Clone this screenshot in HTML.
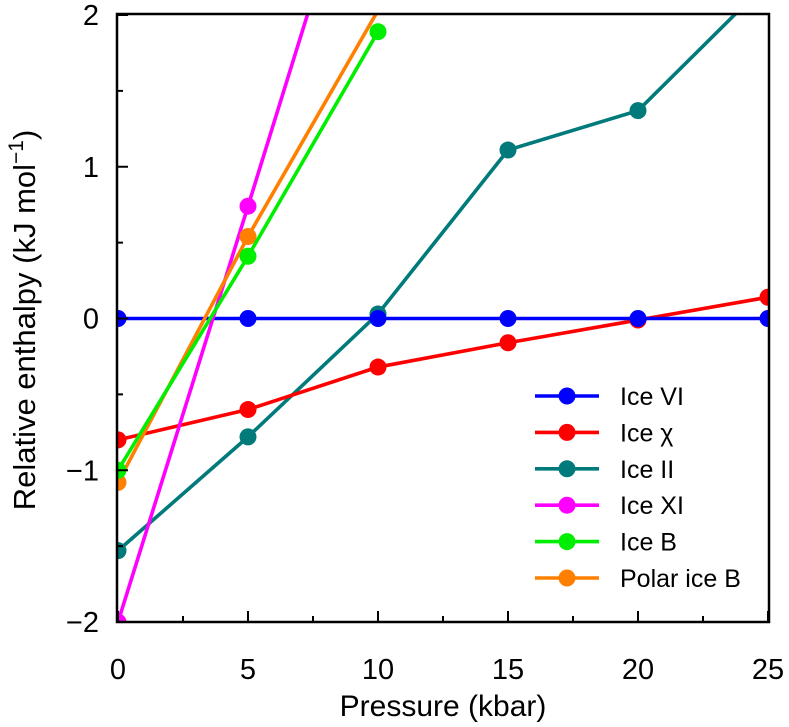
<!DOCTYPE html>
<html><head><meta charset="utf-8"><style>
html,body{margin:0;padding:0;background:#fff;}
svg{display:block;font-family:"Liberation Sans",sans-serif;}
</style></head><body>
<svg id="chart" width="789" height="727"></svg>
<script>
const categories=[0,5,10,15,20,25];
const seriesNames=["Ice VI","Ice \u03c7","Ice II","Ice XI","Ice B","Polar ice B"];
const seriesColors=["#0000ff","#ff0000","#007a7a","#ff00ff","#00ee00","#ff8000"];
const iceVI=[0,0,0,0,0,0];
const iceChi=[-0.80,-0.60,-0.32,-0.16,-0.01,0.14];
const iceII=[-1.53,-0.78,0.03,1.11,1.37,2.22];
const iceXIx=[0,5,10];
const iceXI=[-2.0,0.74,3.5];
const iceBx=[0,5,10];
const iceB=[-1.0,0.41,1.89];
const polarBx=[0,5,10];
const polarB=[-1.08,0.54,2.03];
const xTicks=[0,5,10,15,20,25];
const yTicks=[-2,-1,0,1,2];
const yTickLabels=["\u22122","\u22121","0","1","2"];

const svg=document.getElementById('chart');
const NS="http://www.w3.org/2000/svg";
const L=117,R=769,T=14,B=622;
const X=v=>118+(v/25)*(768-118);
const Y=v=>318.5-v*151.75;
function mk(tag,attrs,parent){const e=document.createElementNS(NS,tag);for(const k in attrs)e.setAttribute(k,attrs[k]);(parent||svg).appendChild(e);return e;}

const defs=mk('defs',{});
const cp=mk('clipPath',{id:'plotclip'},defs);
mk('rect',{x:L,y:T,width:R-L,height:B-T},cp);

const seriesData=[[categories,iceVI],[categories,iceChi],[categories,iceII],[iceXIx,iceXI],[iceBx,iceB],[polarBx,polarB]];
const order=[2,1,0,3,5,4];
const plot=mk('g',{'clip-path':'url(#plotclip)'});


order.forEach(i=>{
  const [xs,ys]=seriesData[i];
  const g=mk('g',{},plot);
  
  
  const pts=xs.map((x,j)=>X(x)+','+Y(ys[j])).join(' ');
  const pl=mk('polyline',{points:pts,fill:'none',stroke:seriesColors[i],'stroke-width':3.6},g);
  
  
  xs.forEach((x,j)=>{
    if(i>=3 && ys[j]>2)return;
    if(i===5 && j===2)return;
    if(i===3 && j===2)return;
    const c=mk('circle',{cx:X(x),cy:Y(ys[j]),r:8.5,fill:seriesColors[i]},g);
    
    
  });
});

const fr=mk('rect',{x:L,y:T,width:R-L,height:B-T,fill:'none',stroke:'#000','stroke-width':2.5});



for(let v=0;v<=25;v+=2.5){
  const major=v%5===0;
  const t=mk('line',{x1:X(v),x2:X(v),y1:B,y2:B-(major?11:6),stroke:'#000','stroke-width':2});
  
  
}
xTicks.forEach(v=>{
  const t=mk('text',{x:X(v),y:679,'font-size':29,'text-anchor':'middle'});
  t.textContent=v;
  
  
});
for(let v=-2;v<=2;v+=0.5){
  const major=Number.isInteger(v);
  const t=mk('line',{x1:L,x2:L+(major?11:6),y1:Y(v),y2:Y(v),stroke:'#000','stroke-width':2});
  
  
}
yTicks.forEach((v,k)=>{
  const t=mk('text',{x:99,y:Y(v)+10,'font-size':29,'text-anchor':'end'});
  t.textContent=yTickLabels[k];
  
  
});
const xt=mk('text',{x:443,y:716,'font-size':30,'text-anchor':'middle'});
xt.textContent='Pressure (kbar)';


const yt=mk('text',{x:0,y:0,'font-size':31,'text-anchor':'middle',transform:'translate(35,320) rotate(-90)'});
yt.innerHTML='Relative enthalpy (kJ mol<tspan font-size="21" dy="-12">\u22121</tspan><tspan dy="12">)</tspan>';



const lg=mk('g',{});


seriesNames.forEach((n,i)=>{
  const y=396+i*36.4;
  const g=mk('g',{},lg);
  
  
  mk('line',{x1:535,x2:599,y1:y,y2:y,stroke:seriesColors[i],'stroke-width':3.6},g);
  mk('circle',{cx:567,cy:y,r:8.5,fill:seriesColors[i]},g);
  const t=mk('text',{x:620,y:y+9,'font-size':25},g);
  t.textContent=n;
});
</script>
</body></html>
